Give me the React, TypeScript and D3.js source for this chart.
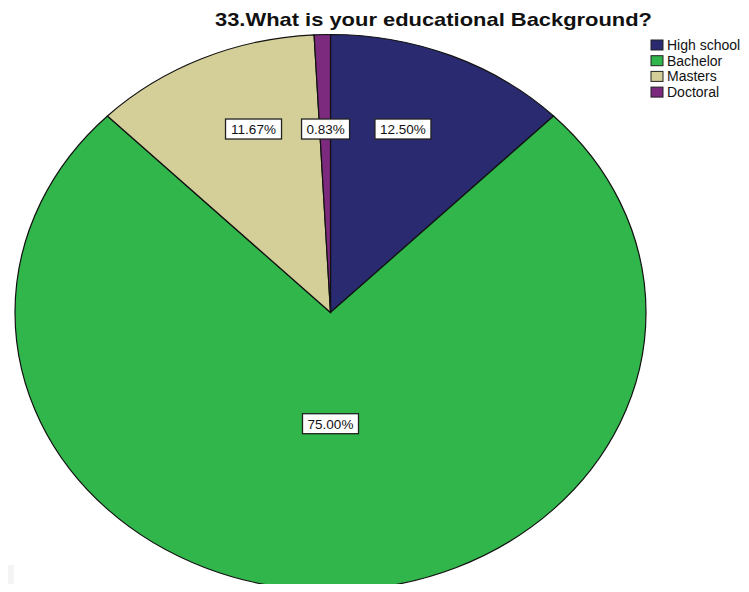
import React from "react";
import * as d3 from "d3";

const categories = ["High school", "Bachelor", "Masters", "Doctoral"];
const percents = [12.5, 75.0, 11.67, 0.83];
const colors = ["#292a70", "#30b64a", "#d4cf98", "#7c2a7e"];
const title = "33.What is your educational Background?";

const W = 749;
const H = 592;
const cx = 330.5;
const cy = 312.5;
const rx = 315.5;
const ry = 278;
const FONT = "Liberation Sans, Arial, sans-serif";

export default function App() {
  const pie = d3.pie<number>().sort(null).value((d) => d);
  const arcs = pie(percents);
  const arc = d3.arc<d3.PieArcDatum<number>>().innerRadius(0).outerRadius(1);
  const isBig = (a: d3.PieArcDatum<number>) => a.endAngle - a.startAngle > Math.PI;
  const labelPos = (a: d3.PieArcDatum<number>) => {
    const mid = (a.startAngle + a.endAngle) / 2;
    if (isBig(a)) {
      return [cx + rx * 0.4 * Math.sin(mid), cy - ry * 0.4 * Math.cos(mid)];
    }
    return [cx + rx * 0.6 * Math.sin(mid), cy - ry * 0.66];
  };

  return (
    <div style={{ margin: -8 }}>
      <svg width={W} height={H} style={{ display: "block", background: "#fff" }}>
        <rect x={0} y={565} width={14} height={27} fill="#f4f4f4" />
        <text
          x={433.5}
          y={26}
          textAnchor="middle"
          fontFamily={FONT}
          fontWeight="bold"
          fontSize={19}
          textLength={437}
          lengthAdjust="spacingAndGlyphs"
          fill="#111"
        >
          {title}
        </text>
        <g transform={`translate(${cx},${cy}) scale(${rx},${ry})`}>
          {arcs.map((a, i) => (
            <path
              key={i}
              d={arc(a) || ""}
              fill={colors[i]}
              stroke="#111"
              strokeWidth={1.2}
              vectorEffect="non-scaling-stroke"
            />
          ))}
        </g>
        {arcs.map((a, i) => {
          const [x, y] = labelPos(a);
          const txt = percents[i].toFixed(2) + "%";
          const bw = txt.length * 8 + 8;
          return (
            <g key={i}>
              <rect
                x={x - bw / 2}
                y={y - 10}
                width={bw}
                height={20}
                fill="#fff"
                stroke="#222"
                strokeWidth={1.3}
              />
              <text
                x={x}
                y={y + 5}
                textAnchor="middle"
                fontFamily={FONT}
                fontSize={13.5}
                fill="#111"
              >
                {txt}
              </text>
            </g>
          );
        })}
        {categories.map((c, i) => (
          <g key={c} transform={`translate(651,${40 + i * 15.7})`}>
            <rect width={12} height={10} fill={colors[i]} stroke="#222" strokeWidth={1} />
            <text x={16} y={10} fontFamily={FONT} fontSize={14} fill="#111">
              {c}
            </text>
          </g>
        ))}
      </svg>
    </div>
  );
}
